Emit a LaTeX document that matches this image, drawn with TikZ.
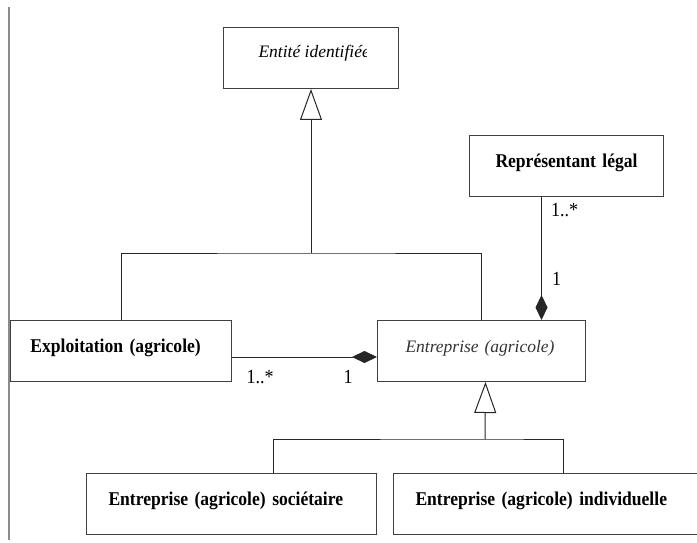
\documentclass[tikz,border=0pt]{standalone}
\usepackage{fontspec}
\setmainfont{Liberation Serif}
\newfontfamily\umlfont{Liberation Serif}[FakeStretch=0.9]
\usetikzlibrary{arrows.meta}

\begin{document}
\begin{tikzpicture}[x=1pt,y=-1pt,line width=1pt,
  classbox/.style={draw=black!75,rectangle,anchor=north west,minimum height=61pt,
    align=left,inner ysep=0pt,text height=12pt,text depth=9pt,
    font=\umlfont\fontsize{19.5}{22}\selectfont\bfseries},
  abstractbox/.style={classbox,font=\fontsize{17.5}{20}\selectfont\itshape,text=black!80},
  mult/.style={inner sep=0pt,anchor=base west,font=\umlfont\fontsize{20}{22}\selectfont},
  generalise/.style={draw=black!85,-{Triangle[open,length=31pt,width=22pt]}},
  compose/.style={draw=black!85,-{Diamond[length=25pt,width=12pt]}}]
\useasboundingbox (0,0) rectangle (697,543);
\clip (0,0) rectangle (697,543);
\draw[black!45,line width=2pt] (8.5,7) -- (8.5,540);

\node[abstractbox,minimum width=175pt] (entite) at (223,27) {};
\begin{scope}
\clip (entite.north west) rectangle (366,88);
\node[inner sep=0pt,anchor=base west,font=\fontsize{17.5}{20}\selectfont\itshape]
  (entitename) at (258,58) {Entité identifiée};
\end{scope}
\node[classbox,align=center,inner xsep=10pt,text width=174pt] (rep) at (469,135)
  {Représentant légal};
\node[classbox,inner xsep=20pt,text width=181pt] (expl) at (10,320)
  {Exploitation (agricole)};
\node[abstractbox,inner xsep=28pt,text width=152pt] (ent) at (377,320)
  {Entreprise (agricole)};
\node[classbox,inner xsep=22pt,text width=246pt] (soc) at (86,473)
  {Entreprise (agricole) sociétaire};
\node[classbox,inner xsep=22pt,text width=263pt] (indiv) at (393,473)
  {Entreprise (agricole) individuelle};

\coordinate (j1) at (311,253);
\coordinate (j2) at (485,439);
\draw[black!85] (expl.north) |- (j1) -| (ent.north);
\draw[generalise] (j1) -- (entite.south);
\draw[black!85] ([xshift=42pt]soc.north) |- (j2) -| ([xshift=16pt]indiv.north);
\draw[generalise] (j2) -- ([xshift=4pt]ent.south);

\draw[compose] ([yshift=-6pt]expl.east) -- ([yshift=-6pt]expl.east -| ent.west)
  node[mult,pos=0,xshift=14pt,yshift=-26pt] {1..*}
  node[mult,pos=1,xshift=-34pt,yshift=-26pt] {1};
\draw[compose] ([xshift=-25pt]rep.south) -- ([xshift=-25pt]rep.south |- ent.north)
  node[mult,pos=0,xshift=9pt,yshift=-19pt] {1..*}
  node[mult,pos=1,xshift=10pt,yshift=35pt] {1};
\end{tikzpicture}
\end{document}
